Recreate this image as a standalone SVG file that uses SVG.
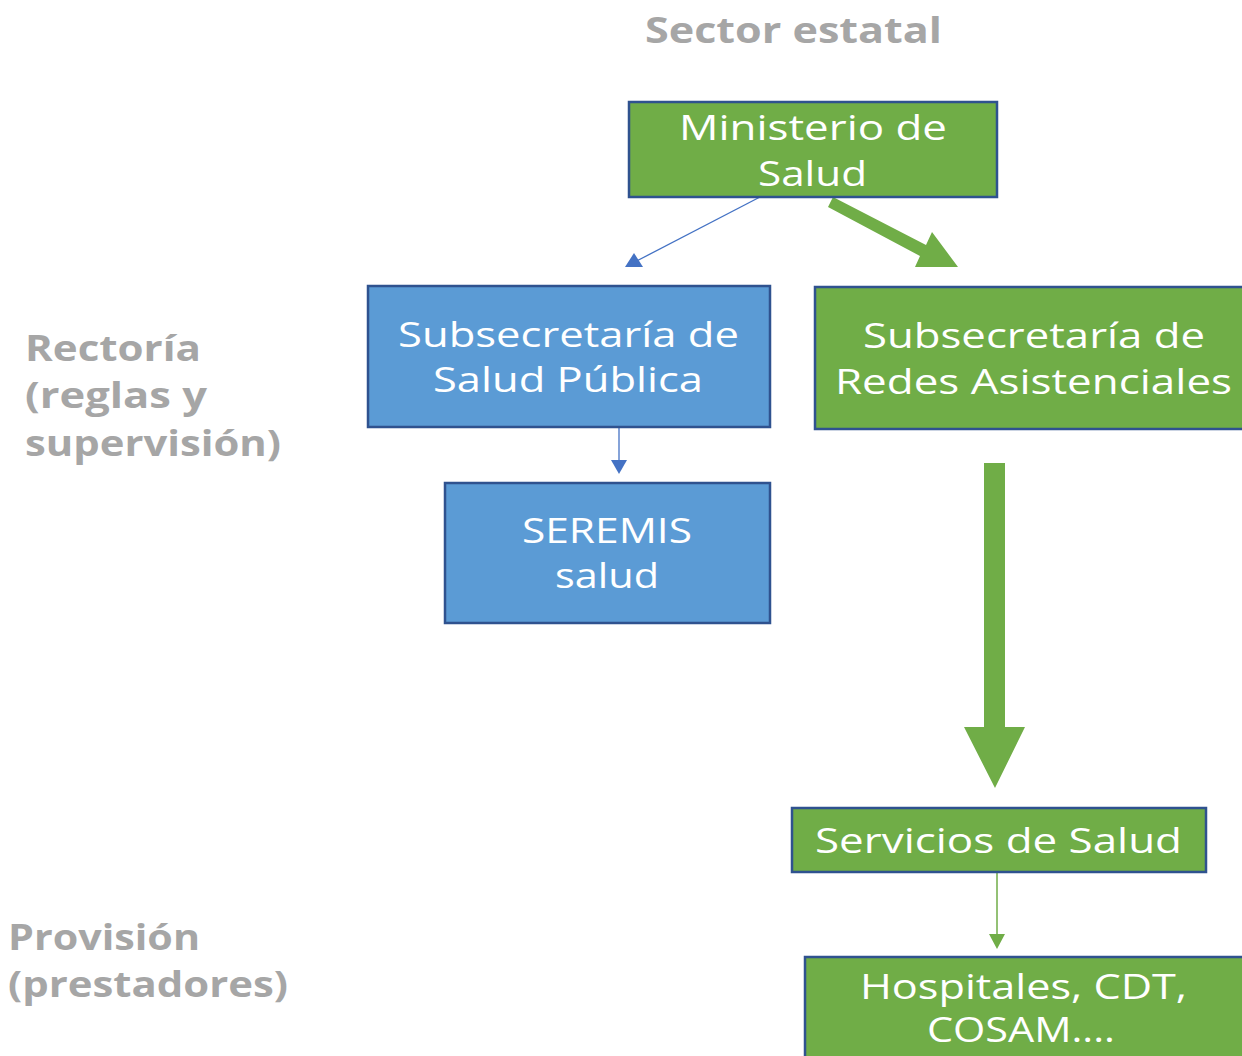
<svg xmlns="http://www.w3.org/2000/svg" width="1242" height="1056" viewBox="0 0 1242 1056">
<defs>
<style>
.green{fill:#70AD47;stroke:#2F528F;stroke-width:2.5}
.blue{fill:#5B9BD5;stroke:#2F528F;stroke-width:2.5}
.t{font-family:"Open Sans","DejaVu Sans",sans-serif;font-size:34px;fill:#ffffff}
.lbl{font-family:"Open Sans","DejaVu Sans",sans-serif;font-size:36px;font-weight:bold;fill:#A6A6A6}
</style>
<marker id="ab" markerWidth="10" markerHeight="10" refX="9" refY="5" orient="auto" markerUnits="userSpaceOnUse" viewBox="0 0 10 10">
<path d="M0,0 L10,5 L0,10 z" fill="#4472C4"/>
</marker>
</defs>
<rect width="1242" height="1056" fill="#ffffff"/>

<g id="labels">
<text class="lbl" x="645" y="43" textLength="297" lengthAdjust="spacingAndGlyphs">Sector estatal</text>
<text class="lbl" x="25" y="361" textLength="176" lengthAdjust="spacingAndGlyphs">Rectoría</text>
<text class="lbl" x="25" y="408" textLength="182" lengthAdjust="spacingAndGlyphs">(reglas y</text>
<text class="lbl" x="25" y="456" textLength="256" lengthAdjust="spacingAndGlyphs">supervisión)</text>
<text class="lbl" x="8" y="950" textLength="192" lengthAdjust="spacingAndGlyphs">Provisión</text>
<text class="lbl" x="8" y="997" textLength="280" lengthAdjust="spacingAndGlyphs">(prestadores)</text>
</g>

<g id="connectors">
<line x1="760" y1="197" x2="627" y2="266" stroke="#4472C4" stroke-width="1.3"/>
<polygon points="625,267 643,267 634,253" fill="#4472C4"/>
<polygon points="833,197 926,245 932,232 958,267 915,267 920,256 828,207" fill="#70AD47"/>
<line x1="619" y1="427" x2="619" y2="462" stroke="#4472C4" stroke-width="1.3"/>
<polygon points="611,460 627,460 619,474" fill="#4472C4"/>
<polygon points="984,463 1005,463 1005,727 1025,727 995,788 964,727 984,727" fill="#70AD47"/>
<line x1="997" y1="872" x2="997" y2="936" stroke="#70AD47" stroke-width="1.5"/>
<polygon points="989,934 1005,934 997,949" fill="#70AD47"/>
</g>

<g id="n-ministerio">
<rect class="green" x="629" y="102" width="368" height="95"/>
<text class="t" x="679" y="140" textLength="268" lengthAdjust="spacingAndGlyphs">Ministerio de</text>
<text class="t" x="758" y="186" textLength="109" lengthAdjust="spacingAndGlyphs">Salud</text>
</g>

<g id="n-ssp">
<rect class="blue" x="368" y="286" width="402" height="141"/>
<text class="t" x="398" y="347" textLength="341" lengthAdjust="spacingAndGlyphs">Subsecretaría de</text>
<text class="t" x="433" y="392" textLength="270" lengthAdjust="spacingAndGlyphs">Salud Pública</text>
</g>

<g id="n-redes">
<rect class="green" x="815" y="287" width="440" height="142"/>
<text class="t" x="863" y="348" textLength="342" lengthAdjust="spacingAndGlyphs">Subsecretaría de</text>
<text class="t" x="835" y="394" textLength="397" lengthAdjust="spacingAndGlyphs">Redes Asistenciales</text>
</g>

<g id="n-seremis">
<rect class="blue" x="445" y="483" width="325" height="140"/>
<text class="t" x="522" y="543" textLength="170" lengthAdjust="spacingAndGlyphs">SEREMIS</text>
<text class="t" x="555" y="588" textLength="104" lengthAdjust="spacingAndGlyphs">salud</text>
</g>

<g id="n-servicios">
<rect class="green" x="792" y="808" width="414" height="64"/>
<text class="t" x="815" y="853" textLength="367" lengthAdjust="spacingAndGlyphs">Servicios de Salud</text>
</g>

<g id="n-hospitales">
<rect class="green" x="805" y="957" width="450" height="110"/>
<text class="t" x="860" y="999" textLength="327" lengthAdjust="spacingAndGlyphs">Hospitales, CDT,</text>
<text class="t" x="927" y="1042" textLength="188" lengthAdjust="spacingAndGlyphs">COSAM....</text>
</g>
</svg>
